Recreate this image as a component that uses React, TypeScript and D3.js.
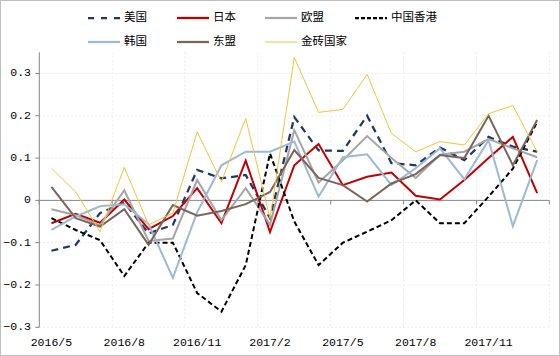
import React from "react";
import * as d3 from "d3";

const months = [
  "2016/5", "2016/6", "2016/7", "2016/8", "2016/9", "2016/10", "2016/11",
  "2016/12", "2017/1", "2017/2", "2017/3", "2017/4", "2017/5", "2017/6",
  "2017/7", "2017/8", "2017/9", "2017/10", "2017/11", "2017/12", "2018/1",
];
const xTickLabels = ["2016/5", "2016/8", "2016/11", "2017/2", "2017/5", "2017/8", "2017/11"];
const yTicks = [-0.3, -0.2, -0.1, 0, 0.1, 0.2, 0.3];

const usa = [-0.119, -0.105, -0.03, -0.005, -0.078, -0.058, 0.072, 0.052, 0.06, -0.042, 0.197, 0.118, 0.117, 0.2, 0.088, 0.083, 0.125, 0.095, 0.15, 0.127, 0.115];
const japan = [-0.054, -0.032, -0.053, 0.002, -0.068, -0.037, 0.029, -0.054, 0.094, -0.075, 0.083, 0.133, 0.036, 0.056, 0.066, 0.011, 0.002, 0.048, 0.1, 0.15, 0.017];
const eu = [-0.021, -0.035, -0.059, 0.024, -0.096, -0.09, 0.048, -0.047, 0.029, -0.058, 0.166, 0.042, 0.095, 0.152, 0.1, 0.053, 0.108, 0.115, 0.145, 0.123, 0.102];
const hk = [-0.042, -0.07, -0.094, -0.179, -0.1, -0.1, -0.219, -0.263, -0.153, 0.111, -0.05, -0.153, -0.1, -0.074, -0.047, 0.0, -0.054, -0.054, 0.009, 0.075, 0.185];
const korea = [-0.07, -0.038, -0.014, -0.009, -0.056, -0.183, -0.028, 0.083, 0.115, 0.115, 0.139, 0.009, 0.102, 0.109, 0.036, 0.076, 0.123, 0.05, 0.142, -0.061, 0.095];
const asean = [0.032, -0.042, -0.062, -0.021, -0.105, -0.011, -0.036, -0.025, -0.009, 0.02, 0.119, 0.053, 0.036, -0.003, 0.04, 0.062, 0.107, 0.1, 0.2, 0.083, 0.19];
const brics = [0.076, 0.02, -0.074, 0.078, -0.058, -0.03, 0.162, 0.044, 0.194, -0.043, 0.338, 0.208, 0.215, 0.298, 0.158, 0.115, 0.139, 0.131, 0.205, 0.224, 0.115];

const seriesNames = ["美国", "日本", "欧盟", "中国香港", "韩国", "东盟", "金砖国家"];
const seriesValues = [usa, japan, eu, hk, korea, asean, brics];
const seriesColors = ["#1F3864", "#C00000", "#A5A5A5", "#000000", "#9DB9D3", "#7A655C", "#F5C23A"];
const seriesWidths = [2.25, 2, 2, 2, 2, 2, 1];
const seriesDash = ["7,5", null, null, "5,3", null, null, null];

export default function App() {
  const W = 560, H = 356;
  const left = 39.3, right = 549.3, top = 52.3, bottom = 327.3;
  const x = d3.scaleBand<string>().domain(months).range([left, right]).padding(0);
  const y = d3.scaleLinear().domain([-0.3, 0.35]).range([bottom, top]);
  const cx = (m: string) => (x(m) as number) + x.bandwidth() / 2;
  const line = d3.line<number>().x((_, i) => cx(months[i])).y((v) => y(v));

  const vGrid = months.filter((_, i) => i % 3 === 0).map((m) => x(m) as number).concat([right]);
  const font = "'Liberation Mono', 'DejaVu Sans Mono', monospace";
  const cjk = "'Noto Sans CJK SC', sans-serif";

  const legendPos = [
    [88, 18], [177, 18], [265, 18], [355, 18],
    [88, 42], [177, 42], [265, 42],
  ];

  return (
    <div style={{ position: "fixed", left: 0, top: 0 }}>
      <svg width={W} height={H} style={{ display: "block", background: "#fff" }}>
        <rect x={0.5} y={0.5} width={W - 1} height={H - 1} fill="#fff" stroke="#BFBFBF" />
        {yTicks.filter((t) => t !== 0).map((t) => (
          <line key={"hg" + t} x1={left} x2={right} y1={y(t)} y2={y(t)} stroke="#E6E6E6" strokeDasharray="2,2" strokeWidth={0.75} />
        ))}
        {vGrid.slice(1).map((gx, i) => (
          <line key={"vg" + i} x1={gx} x2={gx} y1={top} y2={bottom} stroke="#E6E6E6" strokeDasharray="2,2" strokeWidth={0.75} />
        ))}
        <line x1={left} x2={left} y1={top} y2={bottom} stroke="#868686" strokeWidth={1} />
        {yTicks.map((t) => (
          <g key={"yt" + t}>
            <line x1={left - 4} x2={left} y1={y(t)} y2={y(t)} stroke="#868686" />
            <text x={31} y={y(t)} textAnchor="end" dominantBaseline="middle" fontFamily={font} fontSize={11.5} fill="#000">
              {t === 0 ? "0" : d3.format(".1f")(t)}
            </text>
          </g>
        ))}
        <line x1={left} x2={right} y1={y(0)} y2={y(0)} stroke="#868686" strokeWidth={1} />
        {vGrid.map((gx, i) => (
          <line key={"xt" + i} x1={gx} x2={gx} y1={y(0)} y2={y(0) + 4} stroke="#868686" />
        ))}
        {xTickLabels.map((m) => (
          <text key={"xl" + m} x={cx(m)} y={343} textAnchor="middle" dominantBaseline="middle" fontFamily={font} fontSize={11.5} fill="#000">
            {m}
          </text>
        ))}
        {seriesValues.map((vals, k) => (
          <path key={"s" + k} d={line(vals) as string} fill="none" stroke={seriesColors[k]} strokeWidth={seriesWidths[k]}
            strokeDasharray={seriesDash[k] ?? undefined} strokeLinejoin="miter" />
        ))}
        {seriesNames.map((n, k) => (
          <g key={"lg" + k}>
            <line x1={legendPos[k][0]} x2={legendPos[k][0] + 32} y1={legendPos[k][1]} y2={legendPos[k][1]}
              stroke={seriesColors[k]} strokeWidth={seriesWidths[k] === 1 ? 1 : 2.25}
              strokeDasharray={k === 0 ? "6,7" : k === 3 ? "4,2" : undefined} />
            <text x={legendPos[k][0] + 36} y={legendPos[k][1]} dominantBaseline="middle" fontFamily={cjk} fontSize={11.5} fill="#000">
              {n}
            </text>
          </g>
        ))}
      </svg>
    </div>
  );
}
